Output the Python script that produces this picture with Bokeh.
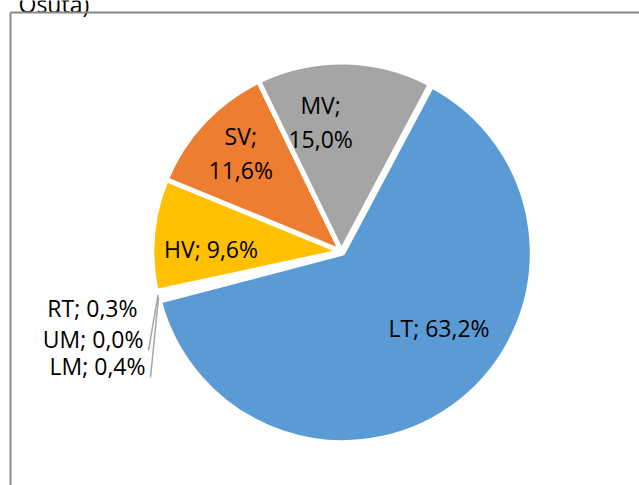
import math
from bokeh.plotting import figure
from bokeh.models import Range1d
from bokeh.core.properties import value
from bokeh.embed import file_html
from bokeh.resources import INLINE

# ---- data ----
categories = ["LT", "LM", "UM", "RT", "HV", "SV", "MV"]
shares = [63.2, 0.4, 0.0, 0.3, 9.6, 11.6, 15.0]
colors = ["#5B9BD5", "#4472C4", "#264478", "#70AD47", "#FFC000", "#ED7D31", "#A5A5A5"]
caption = "Osuta)"

# ---- layout / style ----
W, H = 639, 485
FIRST_ANGLE = 28.0          # degrees clockwise from 12 o'clock
R = 189.5
CX, CY = 341.0, 234.0       # pie centre (data units == px)
EXPLODE = {"LT": 2.0}
FONT = value("Open Sans")
FSIZE = "23px"
# inside labels: (radius, angular offset from bisector)
INSIDE = {"LT": (124, -13.5), "HV": (130.5, -4.0), "SV": (141, 1.2), "MV": (131, -10.2)}
TWO_LINE = {"SV", "MV"}
# outside labels: (dx of right edge, dy) relative to centre
OUTSIDE = {"RT": (-204, -56), "UM": (-198, -87), "LM": (-196, -114)}
LEADERS = {"UM", "LM"}

p = figure(width=W, height=H, x_range=Range1d(0, W), y_range=Range1d(0, H),
           output_backend="svg", toolbar_location=None,
           x_axis_location=None, y_axis_location=None,
           min_border=0, min_border_left=0, min_border_right=0,
           min_border_top=0, min_border_bottom=0)
p.grid.visible = False
p.outline_line_color = None
p.background_fill_color = "white"
p.border_fill_color = "white"

# cropped caption line above the chart
p.text(x=[18], y=[H - 3], text=[caption], text_align="left", text_baseline="alphabetic",
       text_font=FONT, text_font_size=FSIZE, text_color="black")

# chart area frame (left + top edges visible)
p.segment(x0=[10, 10], y0=[H - 12, H - 12], x1=[10, W + 5], y1=[-5, H - 12],
          line_color="#898989", line_width=2)

total = sum(shares)
starts, ends = [], []
acc = FIRST_ANGLE
for s in shares:
    starts.append(acc)
    acc += s / total * 360.0
    ends.append(acc)

xs, ys, sa, ea, bis, fc = [], [], [], [], [], []
for c, v, col, s0, e0 in zip(categories, shares, colors, starts, ends):
    b = math.radians((s0 + e0) / 2)
    bis.append((s0 + e0) / 2)
    if v <= 0:
        continue  # a zero slice has no area
    ex = EXPLODE.get(c, 0.0)
    xs.append(CX + ex * math.sin(b))
    ys.append(CY + ex * math.cos(b))
    sa.append(90 - s0)
    ea.append(90 - e0)
    fc.append(col)

p.wedge(x=xs, y=ys, radius=R, start_angle=sa, end_angle=ea,
        start_angle_units="deg", end_angle_units="deg", direction="clock",
        fill_color=fc, line_color="white", line_width=5)

def fmt(v):
    return f"{v:.1f}".replace(".", ",") + "%"

tx, ty, tt = [], [], []
ox, oy, ot = [], [], []
lx0, ly0, lx1, ly1 = [], [], [], []
for c, v, b in zip(categories, shares, bis):
    if c in INSIDE:
        rho, d = INSIDE[c]
        a = math.radians(b + d)
        x = CX + rho * math.sin(a)
        y = CY + rho * math.cos(a)
        if c in TWO_LINE:
            tx += [x, x]
            ty += [y + 17, y - 17]
            tt += [c + ";", fmt(v)]
        else:
            tx.append(x); ty.append(y); tt.append(f"{c}; {fmt(v)}")
    elif c in OUTSIDE:
        dx, dy = OUTSIDE[c]
        ox.append(CX + dx); oy.append(CY + dy); ot.append(f"{c}; {fmt(v)}")
        if c in LEADERS:
            a = math.radians(b)
            lx0.append(CX + (R - 1) * math.sin(a))
            ly0.append(CY + (R - 1) * math.cos(a))
            lx1.append(CX + dx + 5)
            ly1.append(CY + dy - 12)

p.segment(x0=lx0, y0=ly0, x1=lx1, y1=ly1, line_color="#A6A6A6", line_width=1.5)

p.text(x=tx, y=ty, text=tt, text_align="center", text_baseline="middle",
       text_font=FONT, text_font_size=FSIZE, text_color="black")
p.text(x=ox, y=oy, text=ot, text_align="right", text_baseline="middle",
       text_font=FONT, text_font_size=FSIZE, text_color="black")

open("out.html", "w").write(file_html(p, INLINE))
